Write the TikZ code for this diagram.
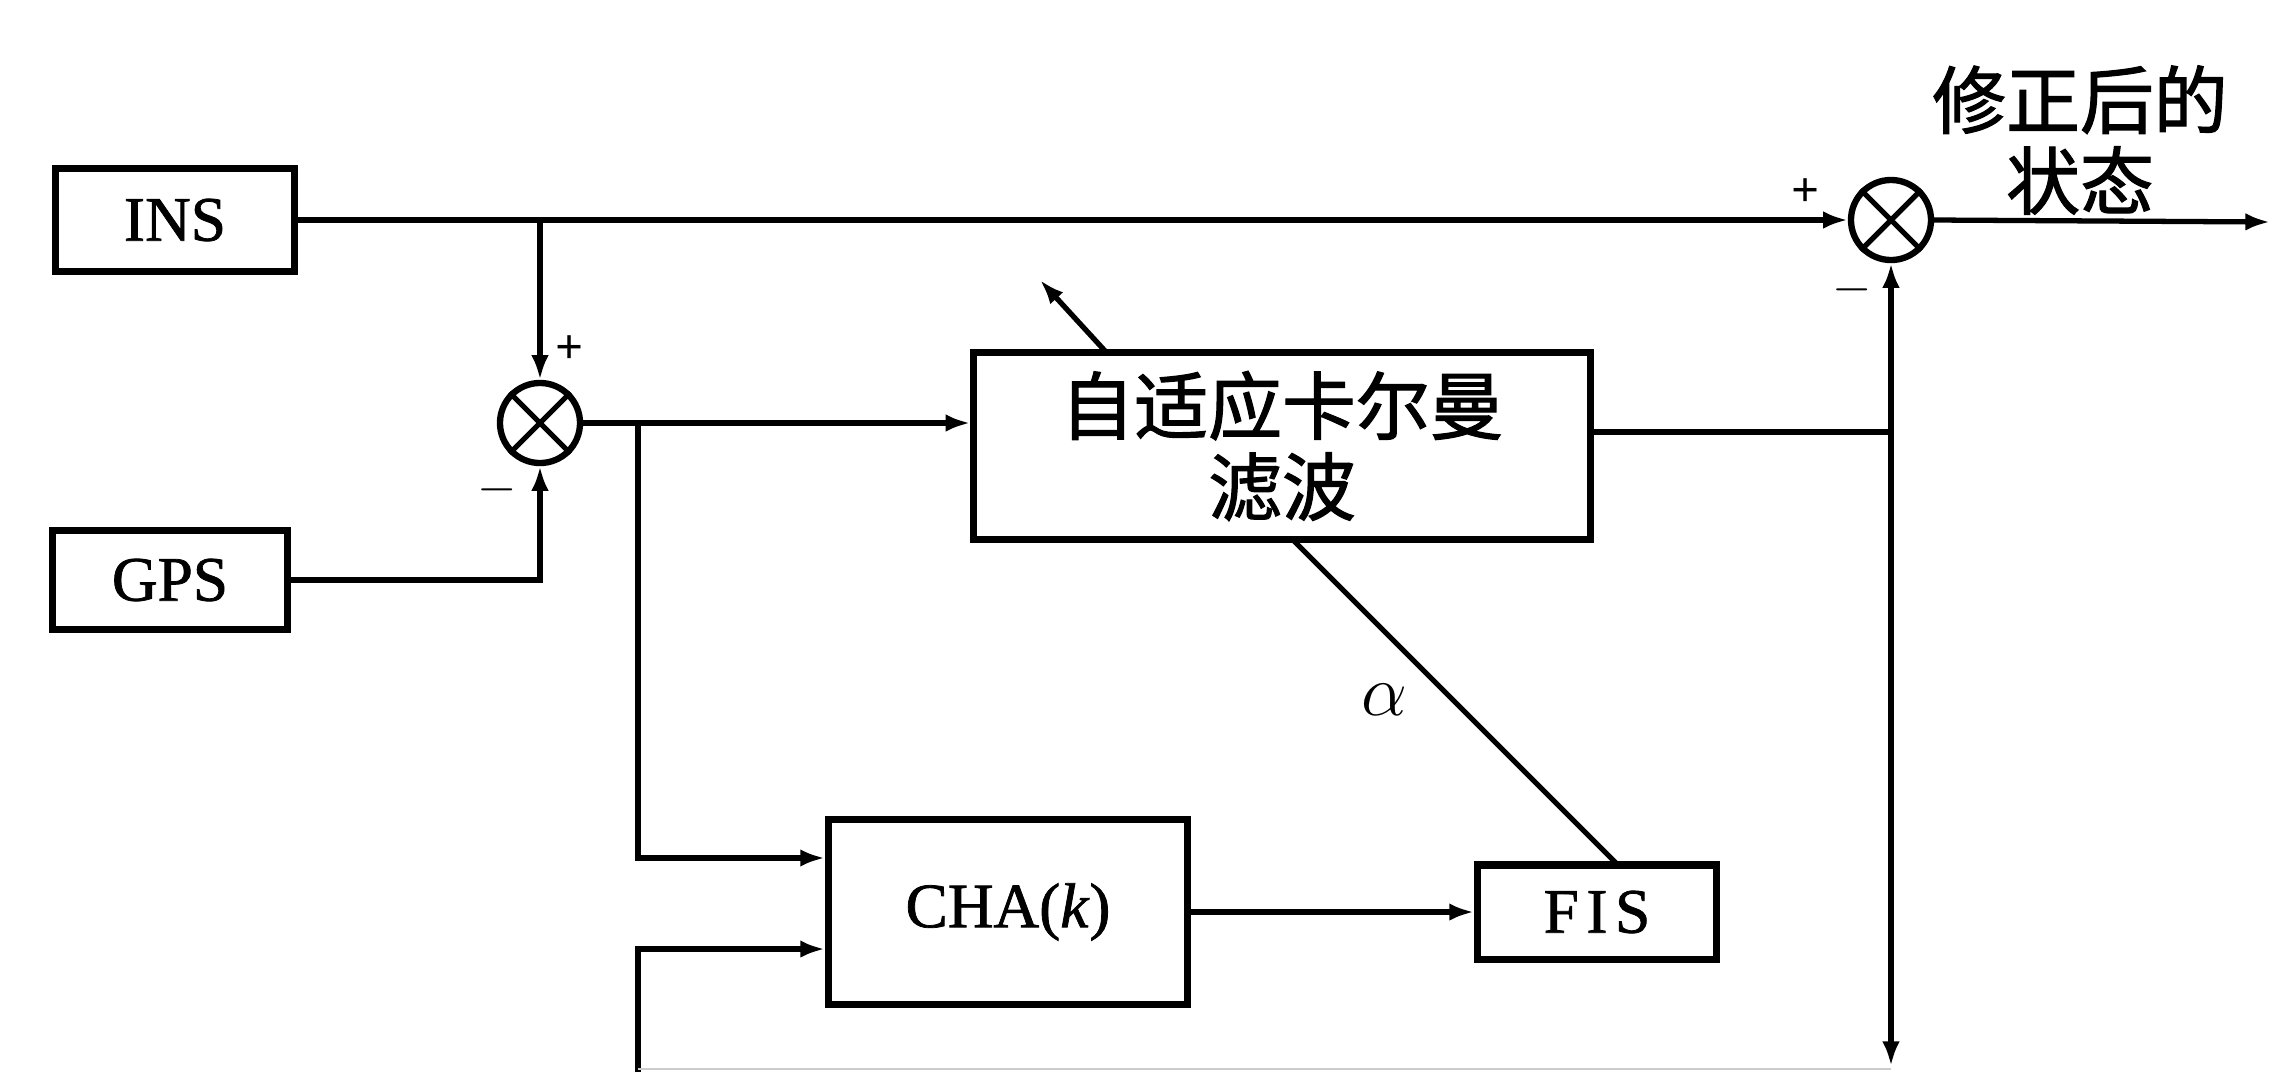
\documentclass[tikz,border=0pt]{standalone}
\usepackage{fontspec}
\setmainfont{Liberation Serif}
\newfontfamily\cjk[FakeBold=1.6]{Noto Sans CJK SC}
\newfontfamily\latb[FakeBold=1.2]{Liberation Serif}
\usetikzlibrary{arrows.meta,calc}
\tikzset{
  blk/.style={draw, line width=2pt, inner sep=0pt, font=\latb\fontsize{18}{20}\selectfont},
  sumj/.style={draw, circle, line width=1.8pt, minimum size=0.8cm, inner sep=0pt},
  ln/.style={line width=1.5pt},
  arr/.style={ln, -{Latex[length=7pt,width=5pt]}},
  sgn/.style={font=\bfseries\fontsize{14}{14}\selectfont, inner sep=0pt},
  cjklab/.style={font=\cjk\fontsize{21}{23}\selectfont, align=center, inner sep=0pt}
}
\newcommand{\crossmark}[1]{%
  \draw[line width=1.5pt] (#1.45) -- (#1.225) (#1.135) -- (#1.315);}
\begin{document}
\begin{tikzpicture}[x=0.01cm, y=-0.01cm]
\useasboundingbox (0,0) rectangle (2272,1072);
% blocks
\node[blk, minimum width=2.39cm, minimum height=1.02cm] (ins) at (175,220) {INS};
\node[blk, minimum width=2.35cm, minimum height=0.99cm] (gps) at (170,580) {GPS};
\node[blk, minimum width=6.16cm, minimum height=1.87cm, cjklab] (kf) at (1282,446) {自适应卡尔曼\\滤波};
\node[blk, minimum width=3.59cm, minimum height=1.84cm] (cha) at (1008,912) {CHA(\textit{k})};
\node[blk, minimum width=2.39cm, minimum height=0.94cm] (fis) at (1597,912) {\addfontfeature{LetterSpace=12}FIS};
% summing junctions
\node[sumj] (s1) at (540,423) {};
\crossmark{s1}
\node[sumj] (s2) at (1891,220) {};
\crossmark{s2}
% signs
\node[sgn] (p1) at (570,350) {+};
\node[sgn] (m1) at (497,490) {$-$};
\node[sgn] (p2) at (1806,193) {+};
\node[sgn] (m2) at (1852,290) {$-$};
% output label
\node[cjklab] (outlab) at (2080,140) {修正后的\\状态};
% coordinates
\coordinate (j1) at (540,220);
\coordinate (j2) at (638,423);
\coordinate (j3) at (1891,432);
\coordinate (c1) at ([yshift=0.54cm]cha.west);
\coordinate (c2) at ([yshift=-0.37cm]cha.west);
\coordinate (b1) at (1891,1066);
\coordinate (b2) at (638,1072);
\coordinate (out) at (2270,222);
% connectors
\draw[arr] (ins.east) -- (s2.west);
\draw[arr] (j1) -- (s1.north);
\draw[arr] (gps.east) -| (s1.south);
\draw[arr] (s1.east) -- (s1.east -| kf.west);
\draw[arr] (j2) |- (c1);
\draw[arr] (b2) |- (c2);
\draw[ln] (j3 -| kf.east) -- (j3);
\draw[arr] (j3) -- (s2.south);
\draw[arr] (j3) -- (b1);
\draw[line width=0.5pt, black!20] (638,1069) -- (1891,1069);
\draw[arr] (s2.east) -- (out);
\draw[arr] (cha.east) -- (fis.west);
% adaptive diagonal
\coordinate (d1) at (1618,865);
\coordinate (d2) at (1292,539);
\coordinate (d3) at (1106,352);
\coordinate (d4) at (1040,280);
\draw[ln] (d1) -- (d2);
\draw[arr] (d3) -- (d4);
\node[font=\fontsize{20}{20}\selectfont] (alpha) at (1384,700) {$\alpha$};
\end{tikzpicture}
\end{document}
